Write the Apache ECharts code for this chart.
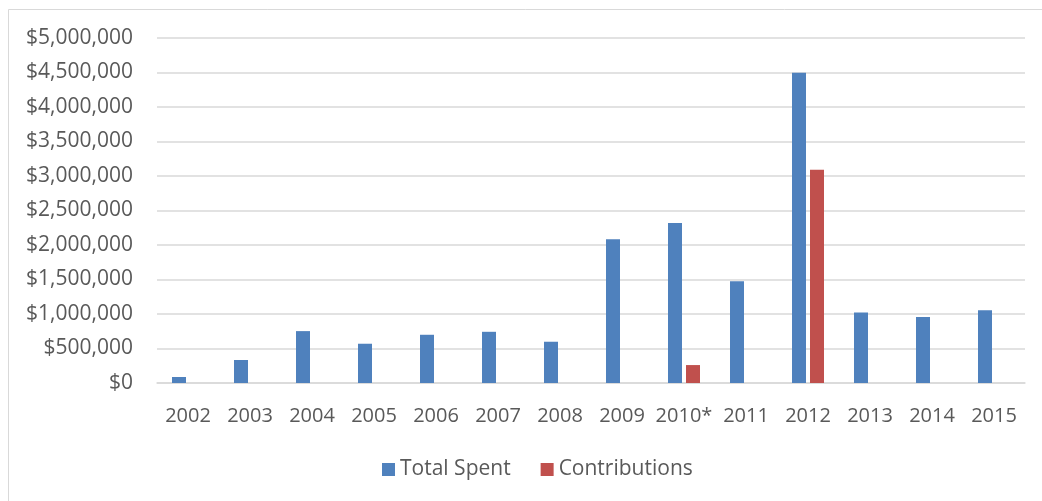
<!DOCTYPE html>
<html>
<head>
<meta charset="utf-8">
<script src="https://cdn.jsdelivr.net/npm/echarts@6/dist/echarts.min.js"></script>
<style>
html,body{margin:0;padding:0;background:#fff;}
#c{width:1042px;height:501px;}
</style>
</head>
<body>
<div id="c"></div>
<script>
var categories = ['2002','2003','2004','2005','2006','2007','2008','2009','2010*','2011','2012','2013','2014','2015'];
var totalSpent = [87000, 333000, 752000, 569000, 699000, 742000, 598000, 2084000, 2320000, 1476000, 4495000, 1022000, 955000, 1056000];
var contributions = [null, null, null, null, null, null, null, null, 260000, null, 3090000, null, null, null];
var seriesNames = ['Total Spent', 'Contributions'];

var FONT = '"Open Sans", "Liberation Sans", sans-serif';
var TXT = '#595959';

function fmt(v){
  return '$' + String(v).replace(/\B(?=(\d{3})+(?!\d))/g, ',');
}

var chart = echarts.init(document.getElementById('c'), null, {renderer:'canvas'});
chart.setOption({
  animation: false,
  backgroundColor: '#ffffff',
  graphic: [{
    type: 'rect',
    shape: {x: 8.5, y: 9.5, width: 1200, height: 700},
    style: {fill: 'none', stroke: '#d9d9d9', lineWidth: 1},
    silent: true, z: -1
  }],
  grid: {left: 157, right: 17, top: 38, bottom: 118, containLabel: false},
  legend: {
    data: seriesNames,
    bottom: 16,
    left: 377,
    itemWidth: 13, itemHeight: 13, itemGap: 30,
    icon: 'rect',
    textStyle: {fontFamily: FONT, fontSize: 21, color: TXT}
  },
  xAxis: {
    type: 'category',
    data: categories,
    axisLine: {lineStyle: {color: '#d9d9d9', width: 1.5}},
    axisTick: {show: false},
    axisLabel: {fontFamily: FONT, fontSize: 20, color: TXT, margin: 23, interval: 0}
  },
  yAxis: {
    type: 'value',
    min: 0, max: 5000000, interval: 500000,
    axisLine: {show: false},
    axisTick: {show: false},
    splitLine: {lineStyle: {color: '#d9d9d9', width: 1.5}},
    axisLabel: {fontFamily: FONT, fontSize: 21, color: TXT, margin: 24, formatter: fmt}
  },
  series: [{
    name: seriesNames[0],
    type: 'bar',
    data: totalSpent,
    barWidth: 14,
    barGap: '28.6%',
    itemStyle: {color: '#4f81bd'}
  },{
    name: seriesNames[1],
    type: 'bar',
    data: contributions,
    barWidth: 14,
    itemStyle: {color: '#c0504d'}
  }]
});
</script>
</body>
</html>
